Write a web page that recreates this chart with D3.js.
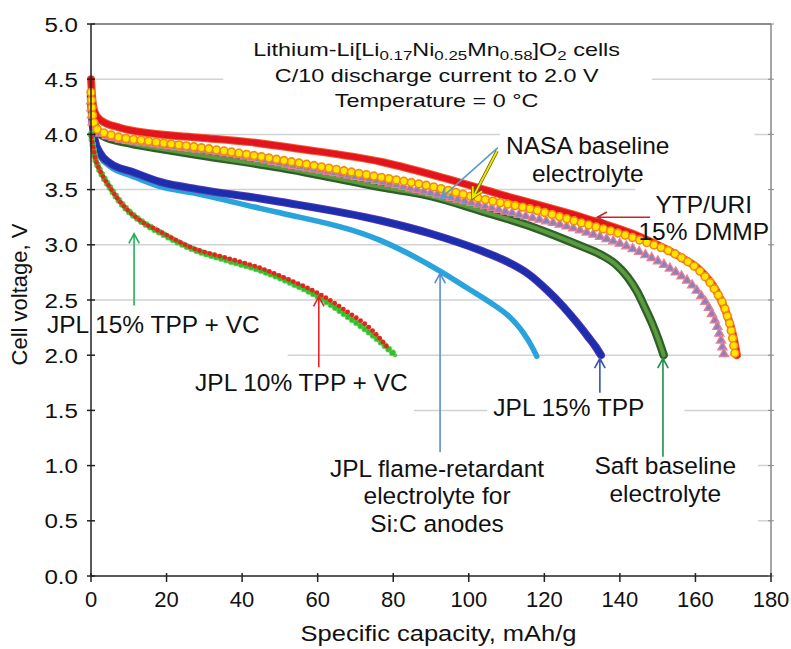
<!DOCTYPE html>
<html>
<head>
<meta charset="utf-8">
<script src="https://cdn.jsdelivr.net/npm/d3@7"></script>
<style>
  body { margin: 0; background: #fff; }
  svg { display: block; }
  text { font-family: "Liberation Sans", Arial, Helvetica, sans-serif; fill: #111; }
</style>
</head>
<body>
<svg id="chart" width="791" height="649"></svg>
<script>
// ---- axis ticks ----
const capTicks = [0, 20, 40, 60, 80, 100, 120, 140, 160, 180];
const voltTicks = [0.0, 0.5, 1.0, 1.5, 2.0, 2.5, 3.0, 3.5, 4.0, 4.5, 5.0];

// ---- discharge curves: specific capacity (mAh/g) and cell voltage (V) ----
// YTP/URI 15% DMMP
const ytpCap = [0, 0.4, 1, 2.5, 7.7, 15.6, 28.9, 42, 55, 77, 95, 108, 130, 145.5, 156, 161.5, 165.4, 168, 170, 171];
const ytpV   = [4.50, 4.30, 4.20, 4.13, 4.06, 4.01, 3.97, 3.93, 3.87, 3.75, 3.59, 3.46, 3.25, 3.07, 2.89, 2.76, 2.59, 2.40, 2.18, 2.00];
// NASA baseline electrolyte (circles)
const nasaACap = [0, 0.5, 1.5, 5.8, 15, 29, 41, 50, 77, 90, 103, 117, 129.6, 145.5, 156, 161.5, 165, 168, 169.6, 170.5];
const nasaAV   = [4.38, 4.15, 4.05, 3.99, 3.94, 3.88, 3.82, 3.77, 3.61, 3.53, 3.42, 3.32, 3.20, 3.04, 2.89, 2.75, 2.60, 2.40, 2.20, 2.00];
// NASA baseline electrolyte (triangles)
const nasaBCap = [0, 0.5, 2, 6, 15, 29, 41, 50, 77, 92.5, 110, 129.6, 145.5, 153.5, 160, 164, 166.3, 167.6];
const nasaBV   = [4.30, 4.10, 4.02, 3.97, 3.92, 3.86, 3.80, 3.74, 3.57, 3.45, 3.30, 3.13, 2.93, 2.78, 2.60, 2.40, 2.20, 2.00];
// Saft baseline electrolyte
const saftCap = [0, 0.3, 1, 3, 10, 20, 29, 50, 77, 90, 103, 117, 129.6, 135, 139, 142, 144.5, 146.5, 148.5, 150.2, 151.6];
const saftV   = [4.35, 4.20, 4.08, 3.99, 3.92, 3.86, 3.81, 3.70, 3.52, 3.44, 3.31, 3.16, 2.99, 2.91, 2.82, 2.71, 2.58, 2.44, 2.29, 2.14, 2.00];
// JPL 15% TPP
const tppCap = [0, 0.4, 1, 2.4, 5, 11, 18.3, 29, 44.8, 50, 76.6, 90, 103, 110, 116, 121, 125, 128.5, 131.5, 133.5, 135];
const tppV   = [4.32, 4.10, 3.95, 3.83, 3.74, 3.66, 3.57, 3.50, 3.42, 3.39, 3.22, 3.10, 2.95, 2.85, 2.73, 2.58, 2.44, 2.30, 2.17, 2.08, 2.00];
// JPL flame-retardant electrolyte for Si:C anodes
const sicCap = [0, 0.4, 1, 2.4, 5, 11, 18, 27, 44.8, 50, 76.6, 92.5, 100, 106, 111, 114.5, 116.5, 118];
const sicV   = [4.30, 4.05, 3.92, 3.80, 3.71, 3.62, 3.53, 3.47, 3.33, 3.29, 3.04, 2.76, 2.60, 2.47, 2.34, 2.20, 2.09, 1.99];
// JPL 15% TPP + VC
const vc15Cap = [0, 0.5, 1, 2, 3.5, 5, 7, 9.5, 13, 18.3, 27, 36, 44.8, 52, 60.7, 68, 75, 80.5];
const vc15V   = [4.00, 3.90, 3.80, 3.70, 3.60, 3.52, 3.42, 3.32, 3.22, 3.11, 2.96, 2.86, 2.77, 2.67, 2.52, 2.35, 2.17, 2.00];
// JPL 10% TPP + VC
const vc10Cap = [0, 0.5, 1, 2, 3.5, 5, 7, 9.5, 13, 18.3, 27, 36, 44.8, 52, 60.7, 68, 74, 79];
const vc10V   = [4.00, 3.90, 3.80, 3.70, 3.60, 3.52, 3.42, 3.32, 3.22, 3.12, 2.97, 2.88, 2.79, 2.69, 2.55, 2.39, 2.24, 2.05];

const zip = (c, v) => c.map((d, i) => [d, v[i]]);

const svg = d3.select('#chart');
const x = d3.scaleLinear().domain([0, 180]).range([91, 771]);
const y = d3.scaleLinear().domain([0, 5]).range([576, 24]);
const line = d3.line().x(d => x(d[0])).y(d => y(d[1])).curve(d3.curveMonotoneX);

// ---- gridlines ----
const gridG = svg.append('g');
gridG.selectAll('line').data(voltTicks.filter(v => v > 0 && v < 5)).join('line')
  .attr('x1', x(0)).attr('x2', x(180))
  .attr('y1', d => y(d)).attr('y2', d => y(d))
  .attr('stroke', '#d2d2d2').attr('stroke-width', 1.5);

// layers: label backgrounds sit above the grid, below the curves
const boxG = svg.append('g');
const curveG = svg.append('g');
const arrowG = svg.append('g');
const textG = svg.append('g');
const axisG = svg.append('g');

// ---- curves ----
function drawPath(data, stroke, width) {
  return curveG.append('path').datum(data).attr('d', line)
    .attr('fill', 'none').attr('stroke', stroke).attr('stroke-width', width)
    .attr('stroke-linecap', 'round').attr('stroke-linejoin', 'round');
}
function along(node, step, start) {
  const L = node.getTotalLength(), pts = [];
  for (let s = start; s <= L; s += step) pts.push(node.getPointAtLength(s));
  return pts;
}

// Si:C flame-retardant (light blue)
drawPath(zip(sicCap, sicV), '#29a3dc', 5.5);
// JPL 15% TPP (dark blue with violet rim)
drawPath(zip(tppCap, tppV), '#5a36b0', 8);
drawPath(zip(tppCap, tppV), '#1b2fae', 6);
// JPL 15% TPP + VC (green markers)
const vc15 = drawPath(zip(vc15Cap, vc15V), '#49c23e', 4);
curveG.append('g').selectAll('rect').data(along(vc15.node(), 5.2, 0)).join('rect')
  .attr('x', d => d.x - 2.8).attr('y', d => d.y - 2.8).attr('width', 5.6).attr('height', 5.6)
  .attr('rx', 1.5).attr('fill', '#2fbf2a').attr('stroke', '#5ed14f').attr('stroke-width', 0.8);
// JPL 10% TPP + VC (red markers)
const vc10 = drawPath(zip(vc10Cap, vc10V), 'none', 0);
curveG.append('g').selectAll('circle').data(along(vc10.node(), 5.2, 2.6)).join('circle')
  .attr('cx', d => d.x).attr('cy', d => d.y).attr('r', 2.4)
  .attr('fill', '#e8231f');
// Saft baseline (green, dark rim)
drawPath(zip(saftCap, saftV), '#2d5f2b', 8.5);
drawPath(zip(saftCap, saftV), '#5b9b3e', 4);
// NASA baseline (triangles)
const nasaB = drawPath(zip(nasaBCap, nasaBV), '#e48aa0', 2);
curveG.append('g').selectAll('path').data(along(nasaB.node(), 7, 0)).join('path')
  .attr('transform', d => `translate(${d.x},${d.y})`)
  .attr('d', d3.symbol().type(d3.symbolTriangle).size(38))
  .attr('fill', '#8b83b8').attr('stroke', '#ec7f98').attr('stroke-width', 1.2);
// YTP/URI 15% DMMP (red)
drawPath(zip(ytpCap, ytpV), '#f0562a', 8);
drawPath(zip(ytpCap, ytpV), '#e3141e', 6);
// NASA baseline (circles)
const nasaA = drawPath(zip(nasaACap, nasaAV), '#f39a1c', 2);
curveG.append('g').selectAll('circle').data(along(nasaA.node(), 7.6, 0)).join('circle')
  .attr('cx', d => d.x).attr('cy', d => d.y).attr('r', 3.9)
  .attr('fill', '#ffe600').attr('stroke', '#f58a10').attr('stroke-width', 1.6);

// ---- annotation arrows (data coordinates: tail -> tip) ----
const arrows = [
  { from: [11.4, 2.45], to: [11.4, 3.10], color: '#25b05a' },
  { from: [60.3, 1.89], to: [60.3, 2.53], color: '#e8232c' },
  { from: [92.4, 1.12], to: [92.4, 2.74], color: '#5b8ed0' },
  { from: [134.7, 1.66], to: [134.7, 1.97], color: '#3453b8' },
  { from: [151.4, 1.08], to: [151.4, 1.97], color: '#1f8f4c' },
  { from: [148.0, 3.25], to: [134.0, 3.25], color: '#c3272d' },
  { from: [107.7, 3.88], to: [92.6, 3.42], color: '#5b9bd5' },
  { from: [107.5, 3.85], to: [101.1, 3.43], color: '#f2e600', edge: '#6b6300' }
];
arrows.forEach(a => {
  const x1 = x(a.from[0]), y1 = y(a.from[1]), x2 = x(a.to[0]), y2 = y(a.to[1]);
  const ang = Math.atan2(y2 - y1, x2 - x1), hl = 11, spread = 0.5;
  const p = d3.path();
  p.moveTo(x1, y1); p.lineTo(x2, y2);
  p.moveTo(x2 - hl * Math.cos(ang - spread), y2 - hl * Math.sin(ang - spread));
  p.lineTo(x2, y2);
  p.lineTo(x2 - hl * Math.cos(ang + spread), y2 - hl * Math.sin(ang + spread));
  if (a.edge) {
    arrowG.append('path').attr('d', p.toString()).attr('fill', 'none')
      .attr('stroke', a.edge).attr('stroke-width', 3.4).attr('stroke-linejoin', 'miter');
  }
  arrowG.append('path').attr('d', p.toString()).attr('fill', 'none')
    .attr('stroke', a.color).attr('stroke-width', a.edge ? 1.8 : 1.6).attr('stroke-linejoin', 'miter');
});

// ---- annotation labels (center capacity, first baseline voltage, box padding l/r/t/b) ----
const labels = [
  { lines: ['NASA baseline', 'electrolyte'], cap: 131.5, v: 3.82, pad: [6, 85, 8, 0] },
  { lines: ['YTP/URI', '15% DMMP'], cap: 162.2, v: 3.29, pad: [3, 10, 8, 2] },
  { lines: ['JPL 15% TPP + VC'], cap: 16.5, v: 2.20, pad: [40, 28, 8, 22] },
  { lines: ['JPL 10% TPP + VC'], cap: 55.7, v: 1.68, pad: [110, 6, 8, 170] },
  { lines: ['JPL 15% TPP'], cap: 126.5, v: 1.45, pad: [6, 40, 6, 6] },
  { lines: ['JPL flame-retardant', 'electrolyte for', 'Si:C anodes'], cap: 91.6, v: 0.90, pad: [12, 40, 6, 45] },
  { lines: ['Saft baseline', 'electrolyte'], cap: 152.0, v: 0.92, pad: [30, 22, 6, 80] }
];
labels.forEach(l => {
  const t = textG.append('text').attr('text-anchor', 'middle').attr('font-size', 24.5)
    .attr('x', x(l.cap)).attr('y', y(l.v));
  l.lines.forEach((s, i) => t.append('tspan').attr('x', x(l.cap)).attr('dy', i ? 27.5 : 0).text(s));
  const b = t.node().getBBox();
  const x0 = Math.max(x(0) + 1, b.x - l.pad[0]);
  const x1 = Math.min(x(180) - 1, b.x + b.width + l.pad[1]);
  const y0 = b.y - l.pad[2];
  const y1 = Math.min(y(0) - 1, b.y + b.height + l.pad[3]);
  boxG.append('rect').attr('x', x0).attr('y', y0)
    .attr('width', x1 - x0).attr('height', y1 - y0).attr('fill', '#fff');
});

// ---- header text ----
const head = textG.append('g').attr('transform', `translate(${x(91.5)},0)`);
function headLine(yPos, parts) {
  const g = head.append('g').attr('transform', `translate(0,${yPos}) scale(1.3,1)`);
  const t = g.append('text').attr('text-anchor', 'middle').attr('font-size', 18);
  let shift = 0;
  parts.forEach(p => {
    const sub = Array.isArray(p);
    const dy = sub ? 4 - shift : -shift;
    shift = sub ? 4 : 0;
    t.append('tspan').attr('dy', dy).attr('font-size', sub ? 13 : 18).text(sub ? p[0] : p);
  });
  return g;
}
headLine(56, ['Lithium-Li[Li', ['0.17'], 'Ni', ['0.25'], 'Mn', ['0.58'], ']O', ['2'], ' cells']);
headLine(82, ['C/10 discharge current to 2.0 V']);
headLine(107, ['Temperature = 0 °C']);
{
  const b = head.node().getBBox();
  const tx = x(91.5);
  boxG.append('rect').attr('x', tx + b.x - 30).attr('y', y(5) + 1)
    .attr('width', b.width + 62).attr('height', 112 - y(5)).attr('fill', '#fff');
}

// ---- axes ----
axisG.append('line').attr('x1', x(0)).attr('x2', x(180)).attr('y1', y(5)).attr('y2', y(5))
  .attr('stroke', '#666').attr('stroke-width', 1.5);
axisG.append('line').attr('x1', x(180)).attr('x2', x(180)).attr('y1', y(5)).attr('y2', y(0))
  .attr('stroke', '#777').attr('stroke-width', 1.3);
axisG.append('line').attr('x1', x(0)).attr('x2', x(0)).attr('y1', y(5)).attr('y2', y(0))
  .attr('stroke', '#222').attr('stroke-width', 1.5);
axisG.append('line').attr('x1', x(0)).attr('x2', x(180)).attr('y1', y(0)).attr('y2', y(0))
  .attr('stroke', '#222').attr('stroke-width', 1.5);

axisG.append('g').selectAll('line').data(voltTicks).join('line')
  .attr('x1', x(0) - 4).attr('x2', x(0) + 4).attr('y1', d => y(d)).attr('y2', d => y(d))
  .attr('stroke', '#222').attr('stroke-width', 1.5);
axisG.append('g').selectAll('line').data(voltTicks).join('line')
  .attr('x1', x(180) - 3).attr('x2', x(180) + 3).attr('y1', d => y(d)).attr('y2', d => y(d))
  .attr('stroke', '#888').attr('stroke-width', 1);
axisG.append('g').selectAll('line').data(capTicks).join('line')
  .attr('x1', d => x(d)).attr('x2', d => x(d)).attr('y1', y(0) - 3).attr('y2', y(0) + 6)
  .attr('stroke', '#222').attr('stroke-width', 1.5);

axisG.append('g').selectAll('text').data(voltTicks).join('text')
  .attr('transform', d => `translate(${x(0) - 13},${y(d) + 7.5}) scale(1.15,1)`)
  .attr('text-anchor', 'end').attr('font-size', 21)
  .text(d => d.toFixed(1));
axisG.append('g').selectAll('text').data(capTicks).join('text')
  .attr('x', d => x(d)).attr('y', y(0) + 31)
  .attr('text-anchor', 'middle').attr('font-size', 22)
  .text(d => d);

axisG.append('text').attr('transform', `translate(${x(92)},641) scale(1.16,1)`)
  .attr('text-anchor', 'middle').attr('font-size', 22).text('Specific capacity, mAh/g');
axisG.append('text').attr('transform', `translate(27,${y(2.55)}) rotate(-90)`)
  .attr('text-anchor', 'middle').attr('font-size', 22).text('Cell voltage, V');
</script>
</body>
</html>
